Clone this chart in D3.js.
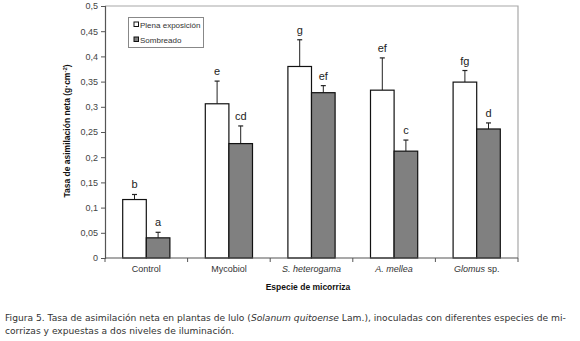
<!DOCTYPE html>
<html><head><meta charset="utf-8">
<script src="https://cdn.jsdelivr.net/npm/d3@7"></script>
<style>body{margin:0;background:#fff}</style>
</head><body>
<svg id="c" width="580" height="341"></svg>
<script>
const categories = ["Control", "Mycobiol", "S. heterogama", "A. mellea", "Glomus sp."];
const seriesNames = ["Plena exposición", "Sombreado"];
const plena = [0.116, 0.306, 0.380, 0.333, 0.349];
const plenaErr = [0.010, 0.045, 0.053, 0.064, 0.023];
const sombreado = [0.040, 0.227, 0.328, 0.212, 0.256];
const sombreadoErr = [0.011, 0.035, 0.014, 0.022, 0.012];
const plenaLetters = ["b", "e", "g", "ef", "fg"];
const sombreadoLetters = ["a", "cd", "ef", "c", "d"];
const yTicks = [0, 0.05, 0.1, 0.15, 0.2, 0.25, 0.3, 0.35, 0.4, 0.45, 0.5];

const svg = d3.select("#c");
const L = 105, R = 518, T = 6, B = 258;
const x = d3.scaleBand().domain(categories).range([L, R]);
const y = d3.scaleLinear().domain([0, 0.5]).range([B, T]);
const bw = 23.6;

svg.append("path").attr("d", `M${L},${T}H${R}V${B}`).attr("fill","none").attr("stroke","#a8a8a8").attr("stroke-width",1.2);

const series = [
  {vals: plena, err: plenaErr, letters: plenaLetters, fill: "#ffffff", off: -bw},
  {vals: sombreado, err: sombreadoErr, letters: sombreadoLetters, fill: "#808080", off: 0}
];
series.forEach(s => {
  const g = svg.append("g");
  categories.forEach((c, i) => {
    const cx = x(c) + x.bandwidth()/2 + s.off;
    const v = s.vals[i], e = s.err[i];
    const mid = cx + bw/2;
    g.append("line").attr("x1", mid).attr("x2", mid).attr("y1", y(v)).attr("y2", y(v+e)).attr("stroke","#222").attr("stroke-width",1);
    g.append("line").attr("x1", mid-2.5).attr("x2", mid+2.5).attr("y1", y(v+e)).attr("y2", y(v+e)).attr("stroke","#222").attr("stroke-width",1.2);
    g.append("rect").attr("x", cx).attr("y", y(v)).attr("width", bw).attr("height", y(0)-y(v))
      .attr("fill", s.fill).attr("stroke","#111").attr("stroke-width",1.2);
    g.append("text").attr("x", mid).attr("y", y(v+e) - 6).attr("text-anchor","middle")
      .attr("font-family","Liberation Sans, Arial, sans-serif").attr("font-size",11).attr("fill","#222").text(s.letters[i]);
  });
});

const yAxis = d3.axisLeft(y).tickValues(yTicks).tickSize(4).tickFormat(d => String(d).replace(".", ","));
const ya = svg.append("g").attr("transform", `translate(${L},0)`).call(yAxis);
ya.select(".domain").attr("stroke","#555").attr("stroke-width",1.2);
ya.selectAll(".tick line").attr("stroke","#555");
ya.selectAll("text").attr("font-family","Liberation Sans, Arial, sans-serif").attr("font-size",9).attr("fill","#444").attr("x",-7);

const xa = svg.append("g").attr("transform", `translate(0,${B})`);
xa.append("line").attr("x1", L).attr("x2", R).attr("y1",0).attr("y2",0).attr("stroke","#555").attr("stroke-width",1.2);
const bounds = categories.map(c => x(c)).concat([R]);
xa.selectAll(".xt").data(bounds).enter().append("line").attr("x1", d=>d).attr("x2", d=>d).attr("y1",0).attr("y2",4).attr("stroke","#555");
const italic = {"Control":[["Control",false]], "Mycobiol":[["Mycobiol",false]], "S. heterogama":[["S. heterogama",true]], "A. mellea":[["A. mellea",true]], "Glomus sp.":[["Glomus",true],[" sp.",false]]};
categories.forEach(c => {
  const t = xa.append("text").attr("x", x(c)+x.bandwidth()/2).attr("y", 14).attr("text-anchor","middle")
    .attr("font-family","Liberation Sans, Arial, sans-serif").attr("font-size",9).attr("fill","#333");
  italic[c].forEach(([s, it]) => t.append("tspan").attr("font-style", it ? "italic" : "normal").text(s));
});

svg.append("text").attr("x", 308).attr("y", 290).attr("text-anchor","middle")
  .attr("font-family","Liberation Sans, Arial, sans-serif").attr("font-size",8.5).attr("font-weight","bold").attr("fill","#111")
  .text("Especie de micorriza");
const yt = svg.append("text").attr("transform","translate(70,131) rotate(-90)").attr("text-anchor","middle")
  .attr("font-family","Liberation Sans, Arial, sans-serif").attr("font-size",8.5).attr("font-weight","bold").attr("fill","#111");
yt.append("tspan").text("Tasa de asimilación neta (g·cm");
yt.append("tspan").attr("baseline-shift","super").attr("font-size",6).text("-2");
yt.append("tspan").text(")");

const lg = svg.append("g");
lg.append("rect").attr("x",128.5).attr("y",17.5).attr("width",75).attr("height",30).attr("fill","#fff").attr("stroke","#888");
seriesNames.forEach((n, i) => {
  lg.append("rect").attr("x",134).attr("y",22+i*15).attr("width",4.5).attr("height",4.5)
    .attr("fill", i===0 ? "#fff" : "#808080").attr("stroke","#111").attr("stroke-width",1);
  lg.append("text").attr("x",140).attr("y",28+i*15).attr("font-family","Liberation Sans, Arial, sans-serif")
    .attr("font-size",8).attr("fill","#333").text(n);
});

// caption: separate text pieces laid out sequentially, font sized to fit
const capParts = [
  ["Figura 5. Tasa de asimilación neta en plantas de lulo (", false],
  ["Solanum quitoense", true],
  [" Lam.), inoculadas con diferentes especies de mi-", false]
];
const cap = svg.append("g").attr("font-family","DejaVu Sans, sans-serif").attr("fill","#333").style("white-space","pre");
let fs = 10;
const pieces = capParts.map(([s, it]) => cap.append("text").attr("y",321).attr("font-size",fs)
  .attr("font-style", it ? "italic" : "normal").attr("xml:space","preserve").text(s));
let total = pieces.reduce((a, p) => a + p.node().getComputedTextLength(), 0);
fs = fs * 562 / total;
let cx0 = 5;
pieces.forEach(p => { p.attr("font-size", fs); });
pieces.forEach(p => { p.attr("x", cx0); cx0 += p.node().getComputedTextLength(); });
cap.append("text").attr("x",5).attr("y",334).attr("font-size",fs).text("corrizas y expuestas a dos niveles de iluminación.");
</script>
</body></html>
